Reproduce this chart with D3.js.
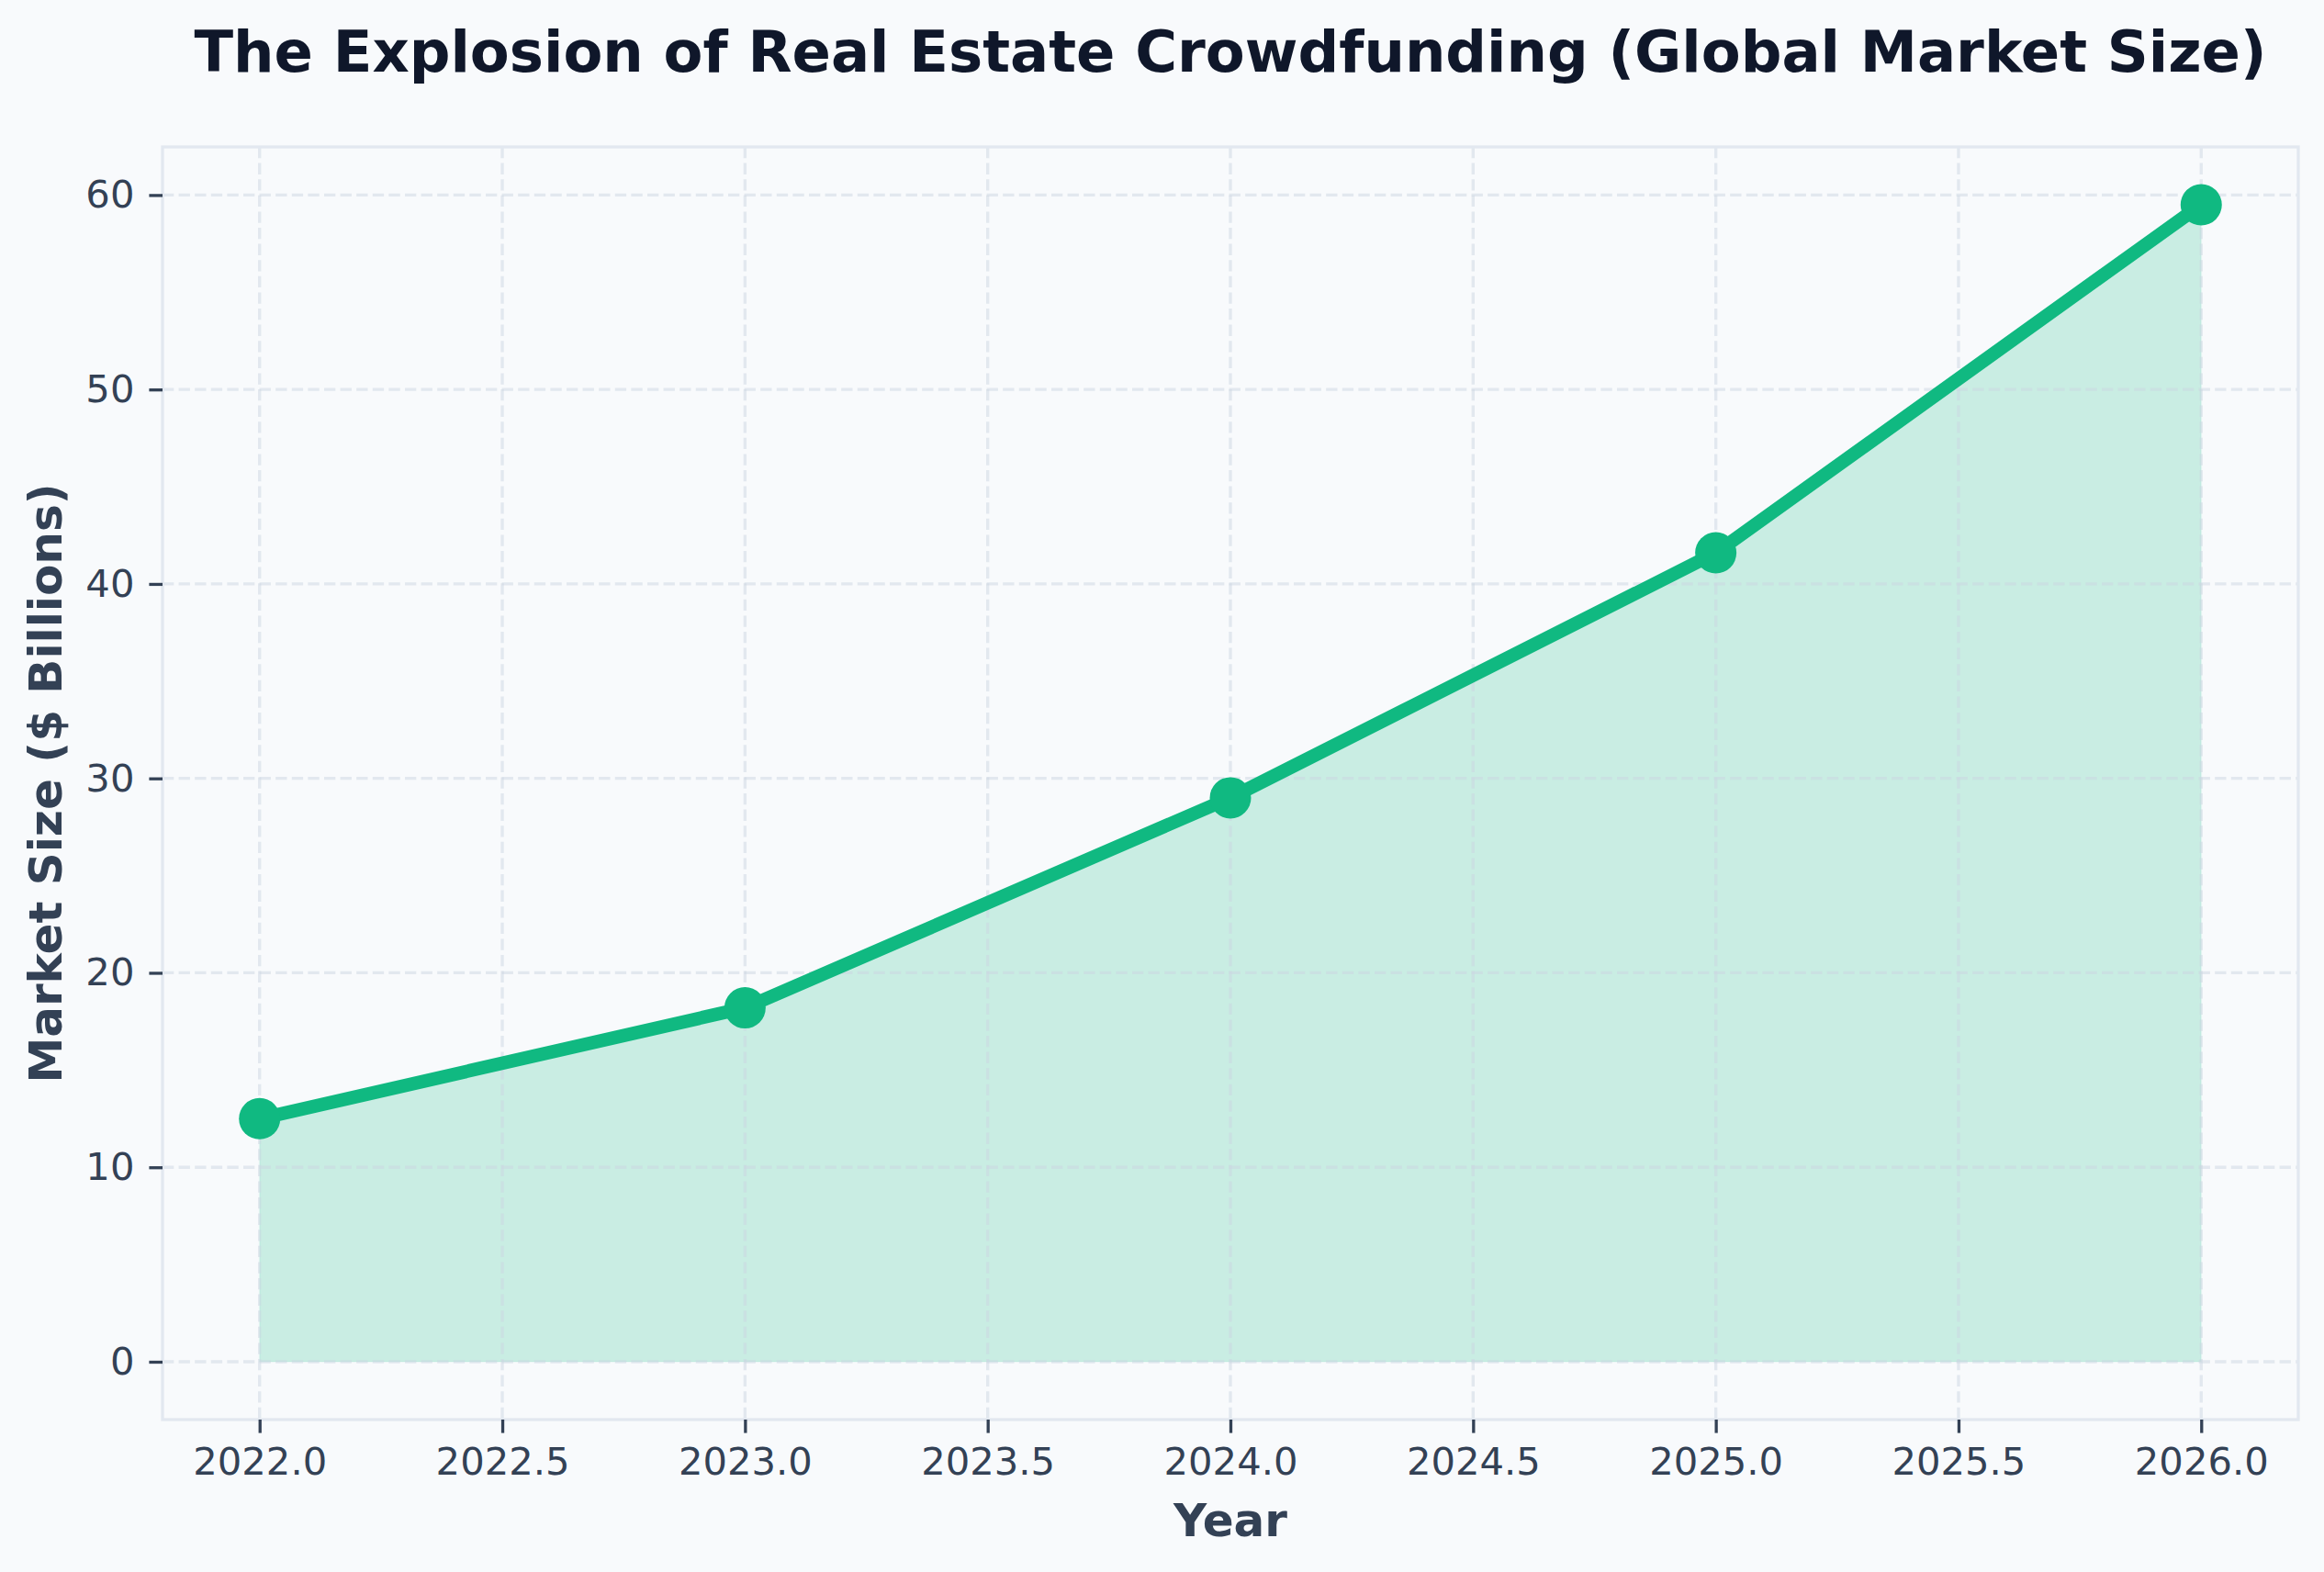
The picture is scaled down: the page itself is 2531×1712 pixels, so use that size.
<!DOCTYPE html>
<html>
<head>
<meta charset="utf-8">
<script src="https://d3js.org/d3.v7.min.js"></script>
<style>
  html, body { margin: 0; padding: 0; background: #F8FAFC; }
  svg { display: block; font-family: "DejaVu Sans", sans-serif; }
</style>
</head>
<body>
<div id="chart"></div>
<script>
// chart values
var years = [2022, 2023, 2024, 2025, 2026];
var marketSize = [12.5, 18.2, 29.0, 41.6, 59.5];
var xTicks = [2022.0, 2022.5, 2023.0, 2023.5, 2024.0, 2024.5, 2025.0, 2025.5, 2026.0];
var yTicks = [0, 10, 20, 30, 40, 50, 60];

var width = 2531, height = 1712;
var margin = { top: 160, right: 28, bottom: 166, left: 177 };
var lineColor = "#10B981", textColor = "#334155";

var data = years.map(function (y, i) { return { year: y, value: marketSize[i] }; });

var svg = d3.select("#chart").append("svg")
    .attr("width", width)
    .attr("height", height);

svg.append("rect").attr("width", width).attr("height", height).attr("fill", "#F8FAFC");

var x = d3.scaleLinear()
    .domain([2021.8, 2026.2])
    .range([margin.left, width - margin.right]);

// matplotlib style 5% margins around 0..max
var yMax = d3.max(marketSize), pad = yMax * 0.05;
var y = d3.scaleLinear()
    .domain([-pad, yMax + pad])
    .range([height - margin.bottom, margin.top]);

// area under the line
var area = d3.area()
    .x(function (d) { return x(d.year); })
    .y0(y(0))
    .y1(function (d) { return y(d.value); });

svg.append("path")
    .datum(data)
    .attr("d", area)
    .attr("fill", lineColor)
    .attr("fill-opacity", 0.2)
    .attr("stroke", lineColor)
    .attr("stroke-opacity", 0.05)
    .attr("stroke-width", 2);

// grid, drawn over the fill
var grid = svg.append("g").attr("class", "grid")
    .attr("stroke", "#CBD5E1")
    .attr("stroke-opacity", 0.5)
    .attr("stroke-width", 3.3)
    .attr("stroke-dasharray", "12.3,5.3");

grid.selectAll("line.v").data(xTicks).enter().append("line")
    .attr("x1", function (d) { return x(d); })
    .attr("x2", function (d) { return x(d); })
    .attr("y1", margin.top)
    .attr("y2", height - margin.bottom);

grid.selectAll("line.h").data(yTicks).enter().append("line")
    .attr("y1", function (d) { return y(d); })
    .attr("y2", function (d) { return y(d); })
    .attr("x1", margin.left)
    .attr("x2", width - margin.right);

// frame
svg.append("rect")
    .attr("x", margin.left)
    .attr("y", margin.top)
    .attr("width", width - margin.left - margin.right)
    .attr("height", height - margin.top - margin.bottom)
    .attr("fill", "none")
    .attr("stroke", "#E2E8F0")
    .attr("stroke-width", 3.3);

// axes
var xAxis = svg.append("g")
    .attr("transform", "translate(0," + (height - margin.bottom) + ")")
    .call(d3.axisBottom(x).tickValues(xTicks).tickFormat(d3.format(".1f"))
        .tickSize(14.6).tickPadding(16));

var yAxis = svg.append("g")
    .attr("transform", "translate(" + margin.left + ",0)")
    .call(d3.axisLeft(y).tickValues(yTicks).tickFormat(d3.format("d"))
        .tickSize(14.6).tickPadding(16));

[xAxis, yAxis].forEach(function (g) {
    g.select(".domain").remove();
    g.selectAll(".tick line").attr("stroke", textColor).attr("stroke-width", 3.3);
    g.selectAll(".tick text")
        .attr("fill", textColor)
        .style("font-family", "DejaVu Sans")
        .style("font-size", "41.7px");
});

// line + markers
var line = d3.line()
    .x(function (d) { return x(d.year); })
    .y(function (d) { return y(d.value); });

svg.append("path")
    .datum(data)
    .attr("d", line)
    .attr("fill", "none")
    .attr("stroke", lineColor)
    .attr("stroke-width", 14.6)
    .attr("stroke-linejoin", "round")
    .attr("stroke-linecap", "butt");

svg.selectAll("circle.pt").data(data).enter().append("circle")
    .attr("class", "pt")
    .attr("cx", function (d) { return x(d.year); })
    .attr("cy", function (d) { return y(d.value); })
    .attr("r", 22.5)
    .attr("fill", lineColor);

// titles
var cx = (margin.left + width - margin.right) / 2;
var cy = (margin.top + height - margin.bottom) / 2;

var title = svg.append("text")
    .attr("x", cx).attr("y", 78)
    .attr("text-anchor", "middle")
    .attr("fill", "#0F172A")
    .style("font-size", "66.7px")
    .style("font-weight", "bold")
    .text("The Explosion of Real Estate Crowdfunding (Global Market Size)");

// shrink the title so it spans the same width as in the original
var tw = title.node().getComputedTextLength();
if (tw > 2257) title.style("font-size", (66.7 * 2257 / tw) + "px");

svg.append("text")
    .attr("x", cx).attr("y", 1673)
    .attr("text-anchor", "middle")
    .attr("fill", textColor)
    .style("font-size", "50px")
    .style("font-weight", "bold")
    .text("Year");

svg.append("text")
    .attr("transform", "translate(67," + cy + ") rotate(-90)")
    .attr("text-anchor", "middle")
    .attr("fill", textColor)
    .style("font-size", "50px")
    .style("font-weight", "bold")
    .text("Market Size ($ Billions)");
</script>
</body>
</html>
